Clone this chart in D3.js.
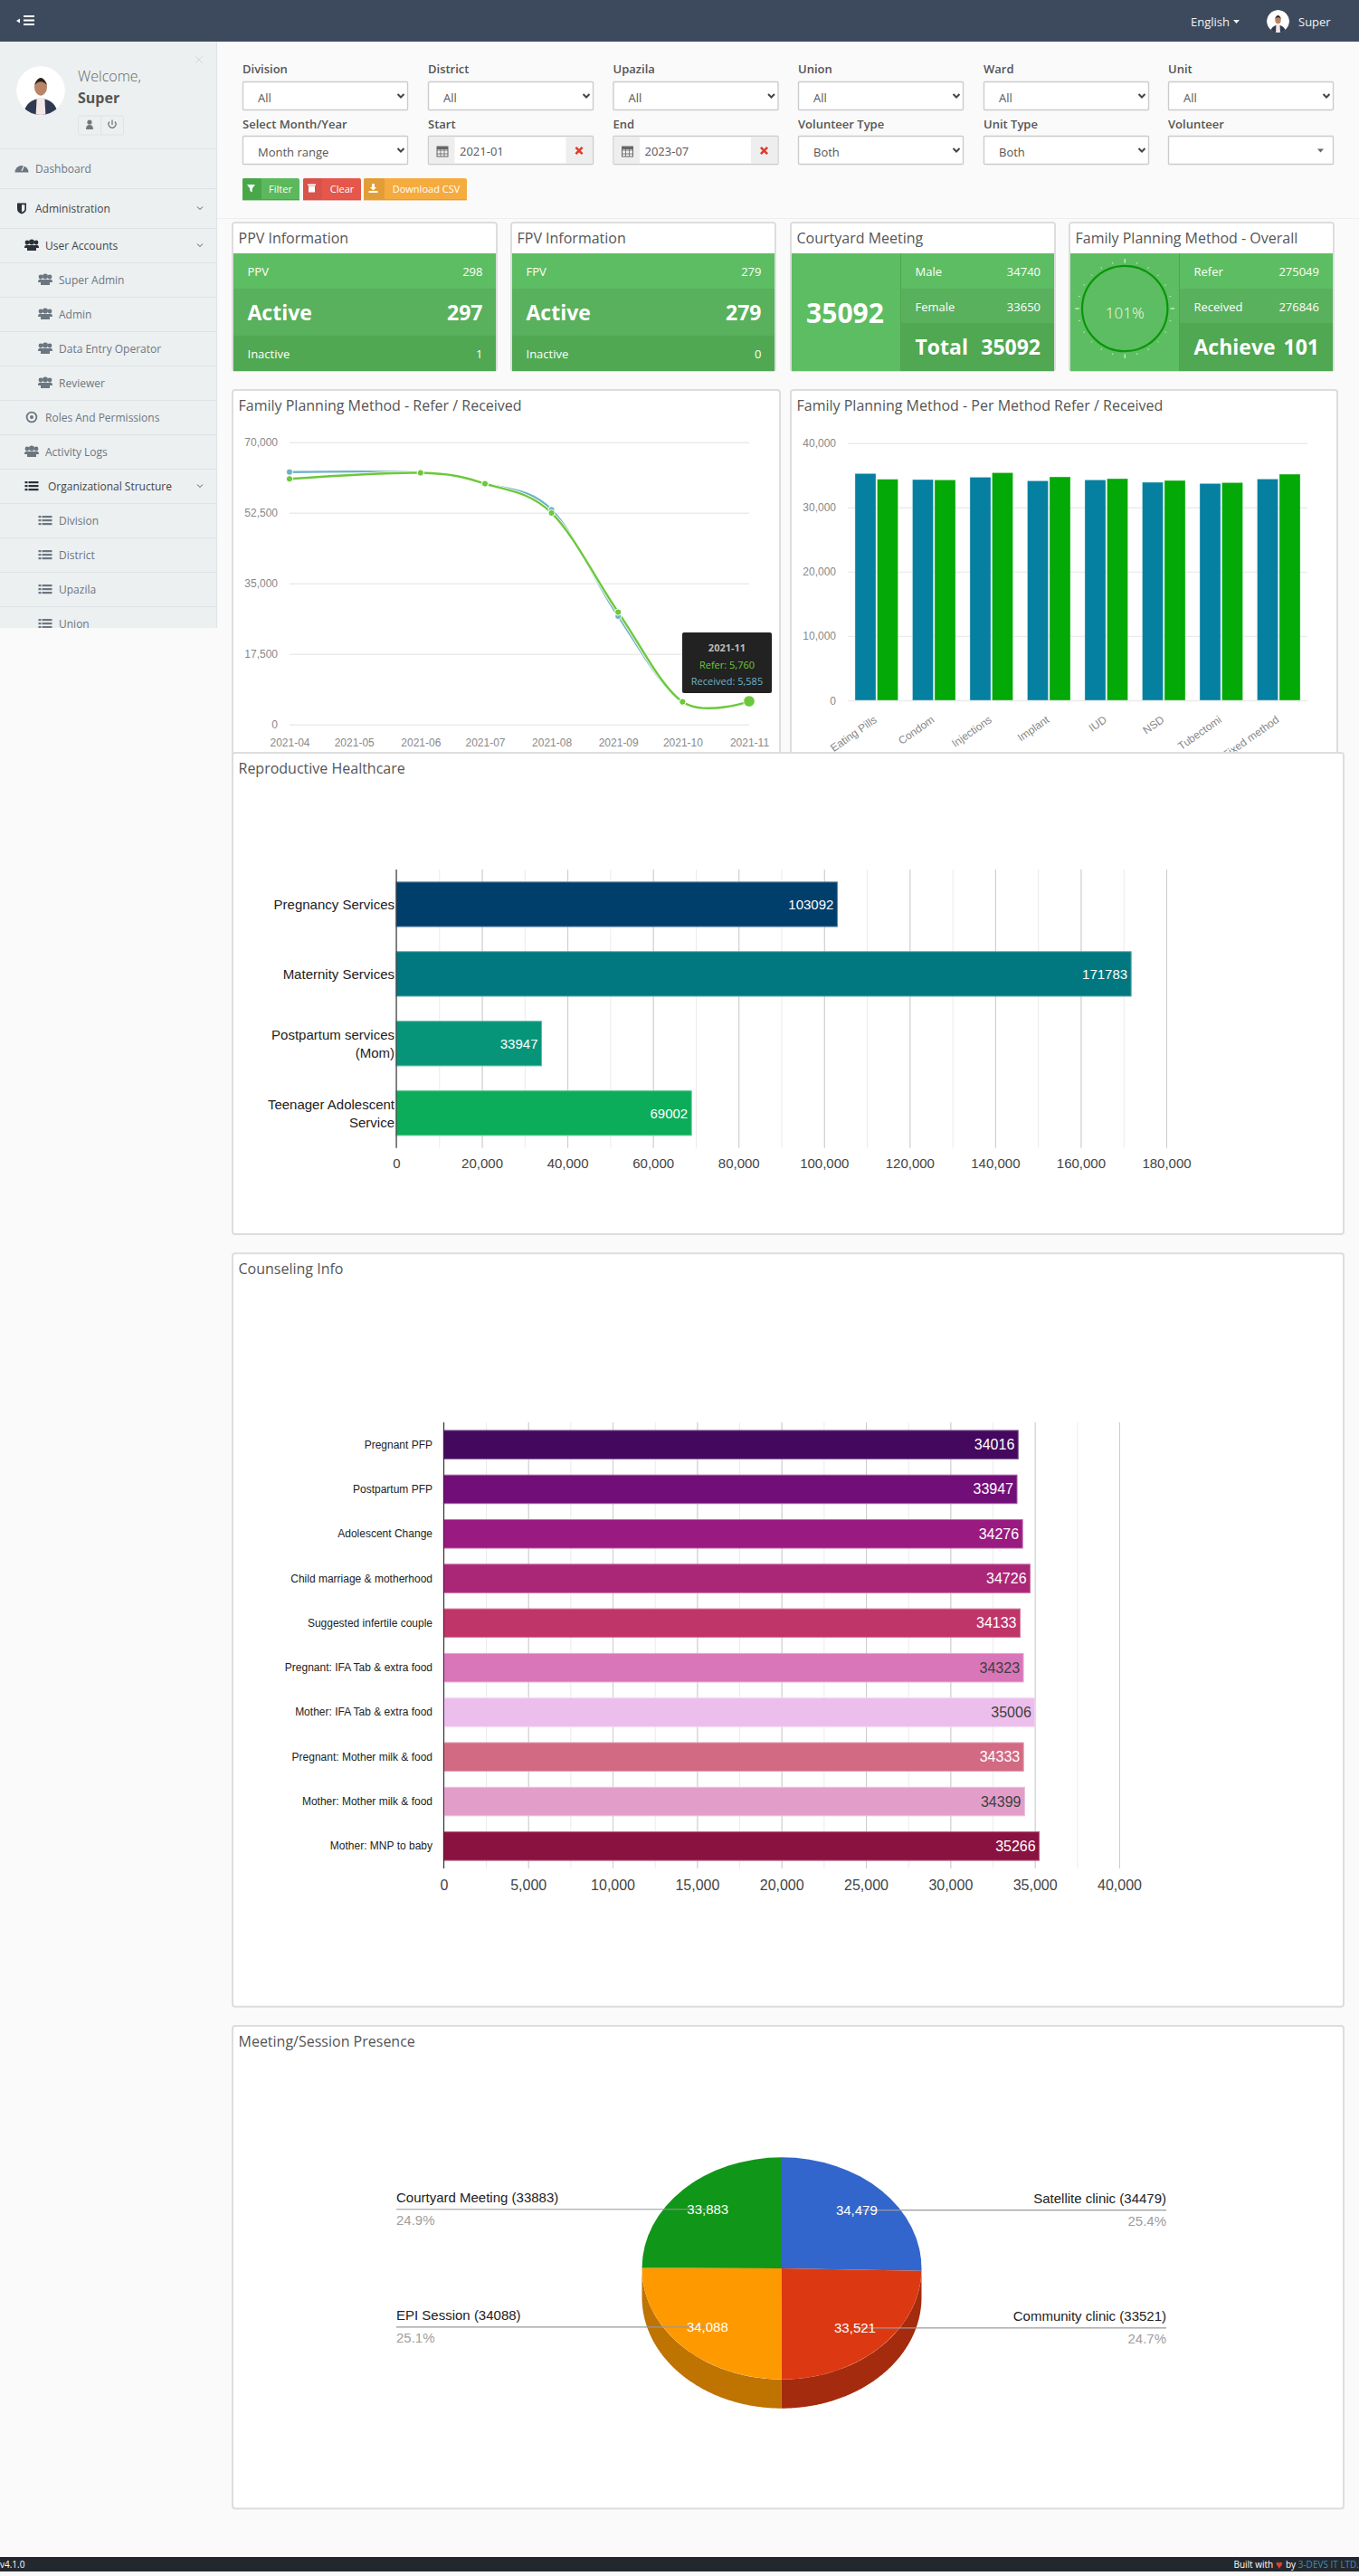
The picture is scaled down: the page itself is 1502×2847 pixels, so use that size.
<!DOCTYPE html>
<html>
<head>
<meta charset="utf-8">
<title>Dashboard</title>
<script src="https://cdnjs.cloudflare.com/ajax/libs/d3/7.8.5/d3.min.js"></script>
<style>
  body { margin: 0; background: #fafafa; }
  svg { display: block; }
  text { font-family: "Open Sans", sans-serif; dominant-baseline: central; }
  .chart text { font-family: "Liberation Sans", Arial, sans-serif; }
  .chart .domain { display: none; }
</style>
</head>
<body>
<div id="page"></div>
<script>
// line chart
const lineMonths = ["2021-04", "2021-06", "2021-07", "2021-08", "2021-09", "2021-10", "2021-11"];
const lineRefer = [60900, 62400, 59700, 52450, 27850, 5620, 5760];
const lineReceived = [62600, 62450, 59750, 53250, 26850, 5600, 5585];
const lineTicks = ["2021-04", "2021-05", "2021-06", "2021-07", "2021-08", "2021-09", "2021-10", "2021-11"];
const lineYTicks = [0, 17500, 35000, 52500, 70000];

// per method bars
const methods = ["Eating Pills", "Condom", "Injections", "Implant", "IUD", "NSD", "Tubectomi", "Fixed method"];
const methodRefer = [35270, 34330, 34700, 34140, 34280, 33910, 33720, 34420];
const methodReceived = [34380, 34280, 35400, 34750, 34470, 34190, 33860, 35170];
const methodYTicks = [0, 10000, 20000, 30000, 40000];

// reproductive healthcare
const careLabels = [["Pregnancy Services"], ["Maternity Services"], ["Postpartum services", "(Mom)"], ["Teenager Adolescent", "Service"]];
const careValues = [103092, 171783, 33947, 69002];
const careColors = ["#003e6b", "#01787f", "#07957a", "#0bad5a"];

// counseling
const counselLabels = ["Pregnant PFP", "Postpartum PFP", "Adolescent Change", "Child marriage & motherhood", "Suggested infertile couple",
  "Pregnant: IFA Tab & extra food", "Mother: IFA Tab & extra food", "Pregnant: Mother milk & food", "Mother: Mother milk & food", "Mother: MNP to baby"];
const counselValues = [34016, 33947, 34276, 34726, 34133, 34323, 35006, 34333, 34399, 35266];
const counselColors = ["#45085f", "#720e78", "#991a80", "#aa2677", "#bf3569", "#d975b9", "#ecbeec", "#d26a84", "#e29ec9", "#8a1240"];

// pie
const pieLabels = ["Satellite clinic", "Community clinic", "EPI Session", "Courtyard Meeting"];
const pieValues = [34479, 33521, 34088, 33883];
const pieColors = ["#3366cc", "#dc3912", "#ff9900", "#109618"];
const pieSides = ["#264d99", "#a52b0e", "#bf7300", "#0c7112"];

// page furniture
const sideLabels = ["Dashboard", "Administration", "User Accounts", "Super Admin", "Admin", "Data Entry Operator", "Reviewer",
  "Roles And Permissions", "Activity Logs", "Organizational Structure", "Division", "District", "Upazila", "Union"];
const sideKinds = ["gauge", "shield", "users", "users", "users", "users", "users", "eye", "users", "list", "list", "list", "list", "list"];
const sideLevels = [0, 0, 1, 2, 2, 2, 2, 1, 1, 1, 2, 2, 2, 2];
const sideOpen = ["Administration", "User Accounts", "Organizational Structure"];
const filterTop = ["Division", "District", "Upazila", "Union", "Ward", "Unit"];
const filterBottom = ["Select Month/Year", "Start", "End", "Volunteer Type", "Unit Type", "Volunteer"];
const filterBottomValues = ["Month range", "2021-01", "2023-07", "Both", "Both", ""];

const W = 1502, H = 2847;
const svg = d3.select("#page").append("svg").attr("width", W).attr("height", H).attr("viewBox", `0 0 ${W} ${H}`);
svg.append("rect").attr("width", W).attr("height", H).attr("fill", "#fafafa");

function label(g, x, y, str, size, fill, anchor, weight) {
  return g.append("text").attr("x", x).attr("y", y).text(str)
    .attr("font-size", size).attr("fill", fill)
    .attr("text-anchor", anchor || "start").attr("font-weight", weight || 400);
}

function box(g, x, y, w, h, fill, stroke, sw, rx) {
  return g.append("rect").attr("x", x).attr("y", y).attr("width", w).attr("height", h)
    .attr("fill", fill).attr("stroke", stroke || "none").attr("stroke-width", sw || 0).attr("rx", rx || 0);
}

// ---- small icons
function icon(g, kind, x, y, c) {
  const i = g.append("g").attr("transform", `translate(${x},${y})`).attr("fill", c).attr("stroke", "none");
  if (kind === "users") {
    i.append("circle").attr("cx", -5).attr("cy", -3).attr("r", 2.4);
    i.append("circle").attr("cx", 5).attr("cy", -3).attr("r", 2.4);
    i.append("circle").attr("cx", 0).attr("cy", -3.4).attr("r", 3);
    i.append("path").attr("d", "M-8,3 Q-8,-1 -4,0 L4,0 Q8,-1 8,3 L5,3 L5,6 L-5,6 L-5,3Z");
  } else if (kind === "list") {
    [-4, 0, 4].forEach(d => {
      i.append("rect").attr("x", -7.5).attr("y", d - 1).attr("width", 3).attr("height", 2.2);
      i.append("rect").attr("x", -3.5).attr("y", d - 1).attr("width", 11).attr("height", 2.2);
    });
  } else if (kind === "gauge") {
    i.append("path").attr("d", "M-7.5,4.5 A7.5,7.5 0 1 1 7.5,4.5 Z");
    i.append("path").attr("d", "M0,3 L3,-4").attr("stroke", "#ecf0f1").attr("stroke-width", 1.2);
  } else if (kind === "shield") {
    i.append("path").attr("d", "M-5,-5.5 H5 V1 Q5,4.5 0,6.5 Q-5,4.5 -5,1Z");
    i.append("path").attr("d", "M0,-3.8 H3.4 V1 Q3.4,3.2 0,4.6Z").attr("fill", "#ecf0f1");
  } else if (kind === "eye") {
    i.append("circle").attr("r", 5.4).attr("fill", "none").attr("stroke", c).attr("stroke-width", 1.8);
    i.append("circle").attr("r", 2);
  } else if (kind === "calendar") {
    i.append("rect").attr("x", -6).attr("y", -5).attr("width", 12).attr("height", 11).attr("fill", "none").attr("stroke", c);
    i.append("rect").attr("x", -6).attr("y", -5).attr("width", 12).attr("height", 3);
    [-2, 2].forEach(d => i.append("path").attr("d", `M${d},-2 V6 M-6,${d + 1} H6`).attr("stroke", c).attr("stroke-width", 0.8));
  } else if (kind === "cross") {
    i.append("path").attr("d", "M-3.6,-3.6 L3.6,3.6 M3.6,-3.6 L-3.6,3.6").attr("stroke", "#e03b2e").attr("stroke-width", 2.6);
  } else if (kind === "funnel") {
    i.append("path").attr("d", "M-4.5,-4 H4.5 L1.2,0.5 V4.5 L-1.2,3 V0.5Z");
  } else if (kind === "trash") {
    i.append("path").attr("d", "M-3.5,-2.5 H3.5 V4.5 H-3.5Z M-4.5,-4.5 H4.5 V-3 H-4.5Z");
  } else if (kind === "download") {
    i.append("path").attr("d", "M-1.5,-5 H1.5 V-1 H3.5 L0,2.5 L-3.5,-1 H-1.5Z M-5,3 H5 V5 H-5Z");
  }
}

let avatarId = 0;
function avatar(g, cx, cy, r) {
  const id = "av" + (avatarId++);
  g.append("clipPath").attr("id", id).append("circle").attr("cx", cx).attr("cy", cy).attr("r", r);
  const a = g.append("g").attr("clip-path", `url(#${id})`);
  a.append("circle").attr("cx", cx).attr("cy", cy).attr("r", r).attr("fill", "#fff");
  a.append("ellipse").attr("cx", cx).attr("cy", cy + r * 0.95).attr("rx", r * 0.68).attr("ry", r * 0.62).attr("fill", "#2f3a52");
  a.append("path").attr("d", `M${cx - r * 0.16},${cy + r * 0.3} L${cx + r * 0.16},${cy + r * 0.3} L${cx + r * 0.2},${cy + r} L${cx - r * 0.2},${cy + r}Z`).attr("fill", "#f3e6e6");
  a.append("ellipse").attr("cx", cx).attr("cy", cy - r * 0.15).attr("rx", r * 0.26).attr("ry", r * 0.36).attr("fill", "#b98468");
  a.append("path").attr("d", `M${cx - r * 0.26},${cy - r * 0.22} Q${cx},${cy - r * 0.82} ${cx + r * 0.26},${cy - r * 0.22} Q${cx},${cy - r * 0.5} ${cx - r * 0.26},${cy - r * 0.22}Z`).attr("fill", "#2b211c");
}

// ---- top bar and footer
const topBar = svg.append("g");
box(topBar, 0, 0, W, 46, "#3d4a5d");
topBar.append("path").attr("d", "M18,23 L22,20.5 V25.5Z").attr("fill", "#fff");
[18, 22.5, 27].forEach(y => box(topBar, 26, y - 1, 12, 2, "#fff"));
label(topBar, 1316, 23.5, "English", 13, "#f0f2f4");
topBar.append("path").attr("d", "M1363,22 h7 l-3.5,4Z").attr("fill", "#f0f2f4");
avatar(topBar, 1412.5, 23.5, 12.5);
label(topBar, 1435, 23.5, "Super", 13, "#f0f2f4");

const footBar = svg.append("g");
box(footBar, 0, 2826, W, 16, "#23282e");
label(footBar, 0, 2834, "v4.1.0", 10, "#fff");
const credit = label(footBar, 1502, 2834, "", 10, "#fff", "end");
credit.append("tspan").text("Built with ");
credit.append("tspan").attr("fill", "#e0402e").attr("font-size", 13).text("♥ ");
credit.append("tspan").text("by ");
credit.append("tspan").attr("fill", "#3c8dbc").text("3-DEVS IT LTD.");

// ---- sidebar
const side = svg.append("g");
box(side, 0, 46, 239, 648, "#ecf0f1");
side.append("line").attr("x1", 239.5).attr("x2", 239.5).attr("y1", 46).attr("y2", 694).attr("stroke", "#dfe3e5");
side.append("path").attr("d", "M216,62 l8,8 M224,62 l-8,8").attr("stroke", "#d5d9db").attr("stroke-width", 1);
avatar(side, 45, 100, 27);
label(side, 86, 84, "Welcome,", 16, "#666", "start", 300);
label(side, 86, 108, "Super", 16, "#555", "start", 700);
box(side, 86.5, 128, 50, 21, "#ecf0f1", "#dfe3e5", 1, 2);
side.append("line").attr("x1", 111.5).attr("x2", 111.5).attr("y1", 128).attr("y2", 149).attr("stroke", "#dfe3e5");
side.append("path").attr("d", "M95,143 q0,-5 4,-5 q4,0 4,5Z").attr("fill", "#777");
side.append("circle").attr("cx", 99).attr("cy", 135).attr("r", 2.6).attr("fill", "#777");
side.append("path").attr("d", "M121,134.5 A4,4 0 1 0 127,134.5 M124,132.5 V138").attr("fill", "none").attr("stroke", "#777").attr("stroke-width", 1.3);
side.append("line").attr("x1", 0).attr("x2", 239).attr("y1", 164.5).attr("y2", 164.5).attr("stroke", "#dfe3e5");

const sideClip = side.append("clipPath").attr("id", "sideClip");
sideClip.append("rect").attr("x", 0).attr("y", 46).attr("width", 240).attr("height", 648);
const sideRows = side.append("g").attr("clip-path", "url(#sideClip)");
const rowHeight = i => (i < 2 ? 44 : 38);
let rowY = 164;
sideLabels.forEach((name, i) => {
  const h = rowHeight(i), level = sideLevels[i], cy = rowY + h / 2;
  const opened = sideOpen.includes(name);
  const ink = opened ? "#444" : "#6c7680";
  const textX = [39, 50, 65][level] + (name === "Organizational Structure" ? 3 : 0);
  icon(sideRows, sideKinds[i], [24, 35, 50][level], cy, sideKinds[i] === "shield" || opened ? "#2b3138" : "#6c7680");
  label(sideRows, textX, cy, name, 12, ink);
  if (opened) sideRows.append("path").attr("d", `M218,${cy - 1.5} l3,3 l3,-3`).attr("fill", "none").attr("stroke", "#555");
  rowY += h;
  sideRows.append("line").attr("x1", 0).attr("x2", 239).attr("y1", rowY + 0.5).attr("y2", rowY + 0.5).attr("stroke", "#dfe3e5");
});

// ---- filter panel
const panel = svg.append("g");
const filterX = [268, 473, 677.5, 882, 1087, 1291], filterW = 182;

function field(x, y, str) {
  box(panel, x + 0.5, y + 0.5, filterW, 31, "#fff", "#ccc", 1.4, 1);
  if (str) label(panel, x + 17, y + 17.5, str, 13, "#555");
}
function chevron(x, y) {
  panel.append("path").attr("d", `M${x - 3.5},${y - 2} l3.5,3.5 l3.5,-3.5`).attr("fill", "none").attr("stroke", "#444").attr("stroke-width", 2);
}

filterTop.forEach((name, i) => {
  label(panel, filterX[i], 76, name, 13, "#555", "start", 600);
  field(filterX[i], 90, "All");
  chevron(filterX[i] + filterW - 7, 106);
});
filterBottom.forEach((name, i) => {
  const x = filterX[i], val = filterBottomValues[i];
  label(panel, x, 137, name, 13, "#555", "start", 600);
  if (name === "Start" || name === "End") {
    field(x, 150, "");
    box(panel, x + 1, 151, 28.5, 30, "#eee");
    box(panel, x + filterW - 29.5, 151, 29.5, 30, "#eee");
    icon(panel, "calendar", x + 16, 167, "#666");
    icon(panel, "cross", x + filterW - 15, 166.5);
    label(panel, x + 35, 166.5, val, 13, "#555");
  } else {
    field(x, 150, val);
    if (name === "Volunteer") panel.append("path").attr("d", `M${x + 165},164.5 h7 l-3.5,4Z`).attr("fill", "#666");
    else chevron(x + filterW - 7, 166);
  }
});

function button(x, w, lead, body, edge, kind, str, textX) {
  box(panel, x, 197, w, 24, body, null, 0, 2);
  box(panel, x, 197, lead, 24, edge, null, 0, 2);
  box(panel, x, 220, w, 1.4, edge);
  icon(panel, kind, x + lead / 2 - 1, 208, "#fff");
  label(panel, textX, 208.5, str, 11, "#fff", "middle");
}
button(268, 63, 21, "#5cb85c", "#48a748", "funnel", "Filter", 310);
button(335, 64, 21, "#e5574b", "#d8534a", "trash", "Clear", 378);
button(402, 114, 23, "#f5ab3e", "#e39d36", "download", "Download CSV", 471);
panel.append("line").attr("x1", 240).attr("x2", W).attr("y1", 241.5).attr("y2", 241.5).attr("stroke", "#eee");

// ---- cards
function card(x, y, w, h, title) {
  const g = svg.append("g");
  box(g, x, y, w, h, "#fff", "#ddd", 2, 3);
  label(g, x + 6.5, y + 17, title, 16, "#555");
  return g;
}
const shades = ["#5dbd62", "#59b05d", "#50a852"];

function infoCard(x, title, name, total, active, inactive) {
  const g = card(x, 246, 292, 164, title);
  const l = x + 1, tx = x + 16.5, ex = x + 276.5;
  box(g, l, 280, 290, 39, shades[0]);
  box(g, l, 319, 290, 52, shades[1]);
  box(g, l, 371, 290, 39, shades[2]);
  label(g, tx, 299.5, name, 13, "#fff");
  label(g, ex, 299.5, total, 13, "#fff", "end");
  label(g, tx, 345, "Active", 23, "#fff", "start", 700);
  label(g, ex, 345, active, 23, "#fff", "end", 700);
  label(g, tx, 390.5, "Inactive", 13, "#fff");
  label(g, ex, 390.5, inactive, 13, "#fff", "end");
}
infoCard(257, "PPV Information", "PPV", 298, 297, 1);
infoCard(565, "FPV Information", "FPV", 279, 279, 0);

function splitCard(x, title, rows, foot) {
  const g = card(x, 246, 292, 164, title);
  const split = x + 121.5;
  box(g, x + 1, 280, 290, 130, shades[0]);
  box(g, split, 319, x + 291 - split, 38, shades[1]);
  box(g, split, 357, x + 291 - split, 53, shades[2]);
  g.append("line").attr("x1", split).attr("x2", split).attr("y1", 280).attr("y2", 410).attr("stroke", "#4fa552");
  rows.forEach((r, i) => {
    label(g, split + 16, [299.5, 338.5][i], r[0], 13, "#fff");
    label(g, x + 276, [299.5, 338.5][i], r[1], 13, "#fff", "end");
  });
  label(g, split + 16, 383, foot[0], 23, "#fff", "start", 700);
  label(g, x + 276, 383, foot[1], 23, "#fff", "end", 700);
  return g;
}
const courtyard = splitCard(874, "Courtyard Meeting", [["Male", 34740], ["Female", 33650]], ["Total", 35092]);
label(courtyard, 934, 345, "35092", 30, "#fff", "middle", 700);

const overall = splitCard(1182, "Family Planning Method - Overall", [["Refer", 275049], ["Received", 276846]], ["Achieve", 101]);
const dial = overall.append("g").attr("transform", "translate(1243.2,341)");
const rad = d => d * Math.PI / 180;
dial.selectAll("line").data(d3.range(0, 360, 15)).join("line")
  .attr("x1", d => (d % 90 ? 51 : 50.3) * Math.sin(rad(d))).attr("y1", d => -(d % 90 ? 51 : 50.3) * Math.cos(rad(d)))
  .attr("x2", d => (d % 90 ? 53 : 55) * Math.sin(rad(d))).attr("y2", d => -(d % 90 ? 53 : 55) * Math.cos(rad(d)))
  .attr("stroke", "#fff").attr("stroke-opacity", d => (d % 90 ? 0.6 : 0.95)).attr("stroke-width", 1);
dial.append("circle").attr("r", 47.2).attr("fill", "none").attr("stroke", "#0a960a").attr("stroke-width", 2.2);
label(dial, 0, 4.7, "101%", 17, "#f4fbf4", "middle", 300);

// ---- line chart: refer / received
const lineCard = card(257, 431, 605, 420, "Family Planning Method - Refer / Received");
const lineG = lineCard.append("g").attr("class", "chart");
const parseMonth = d3.utcParse("%Y-%m");
const lineX = d3.scaleUtc().domain([parseMonth(lineTicks[0]), parseMonth(lineTicks[lineTicks.length - 1])]).range([320, 828]);
const lineY = d3.scaleLinear().domain([0, 70000]).range([800.7, 488.7]);

lineG.append("g").attr("transform", "translate(320,0)")
  .call(d3.axisLeft(lineY).tickValues(lineYTicks).tickSize(-508).tickPadding(13).tickFormat(d3.format(",")))
  .call(a => a.selectAll("line").attr("stroke", "#ebebeb").attr("stroke-width", 1.4))
  .call(a => a.selectAll("text").attr("font-size", 12).attr("fill", "#888").attr("dy", 0));
lineG.append("g").attr("transform", "translate(0,820.7)")
  .call(d3.axisBottom(lineX).tickValues(lineTicks.map(parseMonth)).tickSize(0).tickPadding(0).tickFormat(d3.utcFormat("%Y-%m")))
  .call(a => a.selectAll("text").attr("font-size", 12).attr("fill", "#888").attr("dy", 0).attr("y", 0));

const lineDates = lineMonths.map(parseMonth);
const linePath = d3.line().x((d, i) => lineX(lineDates[i])).y(d => lineY(d)).curve(d3.curveCardinal.tension(0));
const lineSeries = [{ values: lineReceived, color: "#6fb2c6" }, { values: lineRefer, color: "#6cc83a" }];
lineSeries.forEach(s => {
  lineG.append("path").attr("d", linePath(s.values)).attr("fill", "none").attr("stroke", "#fff").attr("stroke-width", 4);
  lineG.append("path").attr("d", linePath(s.values)).attr("fill", "none").attr("stroke", s.color).attr("stroke-width", 2.4);
});
lineSeries.forEach(s => {
  lineG.selectAll(null).data(s.values).join("circle")
    .attr("cx", (d, i) => lineX(lineDates[i])).attr("cy", d => lineY(d))
    .attr("r", (d, i) => (s.color === "#6cc83a" && i === s.values.length - 1 ? 6.3 : 3.6))
    .attr("fill", s.color).attr("stroke", "#fff").attr("stroke-width", 1);
});
const tip = lineG.append("g");
box(tip, 754, 699, 99, 67, "#222", null, 0, 2);
tip.append("text").attr("x", 803.5).attr("y", 715).text(lineMonths[lineMonths.length - 1]).attr("font-size", 11).attr("font-weight", 700).attr("fill", "#bbb").attr("text-anchor", "middle").style("font-family", '"Open Sans"');
tip.append("text").attr("x", 803.5).attr("y", 734).text("Refer: " + d3.format(",")(lineRefer[6])).attr("font-size", 11).attr("fill", "#6cc83a").attr("text-anchor", "middle").style("font-family", '"Open Sans"');
tip.append("text").attr("x", 803.5).attr("y", 752).text("Received: " + d3.format(",")(lineReceived[6])).attr("font-size", 11).attr("fill", "#6fb2c6").attr("text-anchor", "middle").style("font-family", '"Open Sans"');

// ---- grouped bars: per method
const methodCard = card(874, 431, 604, 420, "Family Planning Method - Per Method Refer / Received");
const methodG = methodCard.append("g").attr("class", "chart");
const methodX = d3.scaleBand().domain(methods).range([937, 1445]).paddingInner(0.25).paddingOuter(0.125);
const methodSub = d3.scaleBand().domain(["refer", "received"]).range([0, methodX.bandwidth()]).paddingInner(0.055);
const methodY = d3.scaleLinear().domain([0, 40000]).range([774, 489.7]);

methodG.append("g").attr("transform", "translate(937,0)")
  .call(d3.axisLeft(methodY).tickValues(methodYTicks).tickSize(-508).tickPadding(13).tickFormat(d3.format(",")))
  .call(a => a.selectAll("line").attr("stroke", "#ebebeb").attr("stroke-width", 1.4))
  .call(a => a.selectAll("text").attr("font-size", 12).attr("fill", "#888").attr("dy", 0));

methods.forEach((m, i) => {
  [["refer", methodRefer[i], "#0580a0"], ["received", methodReceived[i], "#03a906"]].forEach(([key, v, c]) => {
    methodG.append("rect").attr("x", methodX(m) + methodSub(key)).attr("y", methodY(v))
      .attr("width", methodSub.bandwidth()).attr("height", methodY(0) - methodY(v))
      .attr("fill", c).attr("stroke", "#fff").attr("stroke-opacity", 0.45).attr("stroke-width", 0.8);
  });
});
methodG.append("g").attr("transform", "translate(0,774)")
  .call(d3.axisBottom(methodX).tickSize(0).tickPadding(0))
  .call(a => a.selectAll("text").attr("font-size", 12).attr("fill", "#888").attr("dy", 0).attr("y", 0)
    .attr("text-anchor", "end").attr("transform", "translate(-1,20) rotate(-35)"));

// ---- horizontal bars with a google-chart look
function hbars(opts) {
  const g = svg.append("g").attr("class", "chart");
  const x = d3.scaleLinear().domain([0, opts.max]).range(opts.xRange);
  const y = d3.scaleBand().domain(d3.range(opts.values.length)).range(opts.yRange).paddingInner(0.36).paddingOuter(0.18);
  const h = opts.yRange[1] - opts.yRange[0];
  const base = "translate(0," + opts.yRange[1] + ")";

  g.append("g").attr("transform", base)
    .call(d3.axisBottom(x).tickValues(d3.range(0, opts.max + 1, opts.minor)).tickSize(h).tickSizeOuter(0).tickFormat(""))
    .call(a => a.attr("transform", "translate(0," + opts.yRange[0] + ")").selectAll("line").attr("stroke", "#ebebeb"));
  g.append("g").attr("transform", base)
    .call(d3.axisBottom(x).tickValues(d3.range(0, opts.max + 1, opts.major)).tickSize(h).tickFormat(d3.format(",")))
    .call(a => a.attr("transform", "translate(0," + opts.yRange[0] + ")").selectAll("line").attr("stroke", "#ccc"))
    .call(a => a.selectAll("text").attr("font-size", opts.tickSize).attr("fill", "#444").attr("dy", 0).attr("y", h + opts.tickGap));

  g.selectAll("rect.bar").data(opts.values).join("rect").attr("class", "bar")
    .attr("x", x(0)).attr("y", (d, i) => y(i)).attr("width", d => x(d) - x(0)).attr("height", y.bandwidth())
    .attr("fill", (d, i) => opts.colors[i])
    .attr("stroke", (d, i) => d3.interpolateRgb(opts.colors[i], "#fff")(0.35)).attr("stroke-width", 1);

  g.selectAll("text.val").data(opts.values).join("text").attr("class", "val")
    .attr("x", d => x(d) - 4).attr("y", (d, i) => y(i) + y.bandwidth() / 2)
    .attr("text-anchor", "end").attr("font-size", opts.valueSize).text(d => d)
    .attr("fill", (d, i) => (d3.hsl(opts.colors[i]).l > 0.64 ? "#404040" : "#fff"));

  g.append("line").attr("x1", x(0)).attr("x2", x(0)).attr("y1", opts.yRange[0]).attr("y2", opts.yRange[1]).attr("stroke", "#222");

  opts.labels.forEach((lines, i) => {
    const list = [].concat(lines);
    list.forEach((t, j) => {
      g.append("text").attr("x", opts.labelX).attr("text-anchor", "end")
        .attr("y", y(i) + y.bandwidth() / 2 + (j - (list.length - 1) / 2) * 20)
        .attr("font-size", opts.labelSize).attr("fill", "#222").text(t);
    });
  });
}

card(257, 832, 1228, 532, "Reproductive Healthcare");
hbars({
  labels: careLabels, values: careValues, colors: careColors, max: 180000, major: 20000, minor: 10000,
  xRange: [438, 1289], yRange: [961, 1268.7], labelX: 436, labelSize: 15, valueSize: 15, tickSize: 15, tickGap: 17
});

card(257, 1385.3, 1228, 832.4, "Counseling Info");
hbars({
  labels: counselLabels, values: counselValues, colors: counselColors, max: 40000, major: 5000, minor: 2500,
  xRange: [490.4, 1237], yRange: [1572, 2065], labelX: 478, labelSize: 12, valueSize: 16, tickSize: 16, tickGap: 18
});

// ---- 3d looking pie
card(257, 2239, 1228, 533.5, "Meeting/Session Presence");
const pieG = svg.append("g").attr("class", "chart");
const pieCx = 864, pieCy = 2507, pieRx = 154.5, pieRy = 122.7, pieDepth = 32;
const slices = d3.pie().sort(null)(pieValues);
const total = d3.sum(pieValues);
const ellipseX = (a, k) => pieCx + pieRx * k * Math.sin(a);
const ellipseY = (a, k) => pieCy - pieRy * k * Math.cos(a);

slices.forEach((s, i) => {
  const a0 = Math.max(s.startAngle, Math.PI / 2), a1 = Math.min(s.endAngle, 3 * Math.PI / 2);
  if (a1 <= a0) return;
  const steps = d3.range(a0, a1, 0.01).concat(a1);
  const rim = steps.map(a => [ellipseX(a, 1), ellipseY(a, 1)]);
  const low = rim.map(p => [p[0], p[1] + pieDepth]).reverse();
  pieG.append("path").attr("d", d3.line()(rim.concat(low)) + "Z").attr("fill", pieSides[i]);
});
const sliceArc = d3.arc().innerRadius(0).outerRadius(pieRx);
pieG.append("g").attr("transform", `translate(${pieCx},${pieCy}) scale(1,${pieRy / pieRx})`)
  .selectAll("path").data(slices).join("path").attr("d", sliceArc).attr("fill", (d, i) => pieColors[i]);

slices.forEach((s, i) => {
  const mid = (s.startAngle + s.endAngle) / 2;
  const px = ellipseX(mid, 0.75), py = ellipseY(mid, 0.75);
  const right = mid < Math.PI;
  const sx = right ? 1289 : 438, anchor = right ? "end" : "start";
  pieG.append("line").attr("x1", sx).attr("x2", px).attr("y1", py).attr("y2", py).attr("stroke", "#999").attr("stroke-width", 1.2);
  label(pieG, px, py, d3.format(",")(pieValues[i]), 15, "#fff", "middle");
  label(pieG, sx, py - 13, `${pieLabels[i]} (${pieValues[i]})`, 15, "#222", anchor);
  label(pieG, sx, py + 12, d3.format(".1%")(pieValues[i] / total), 15, "#9e9e9e", anchor);
});
</script>
</body>
</html>
